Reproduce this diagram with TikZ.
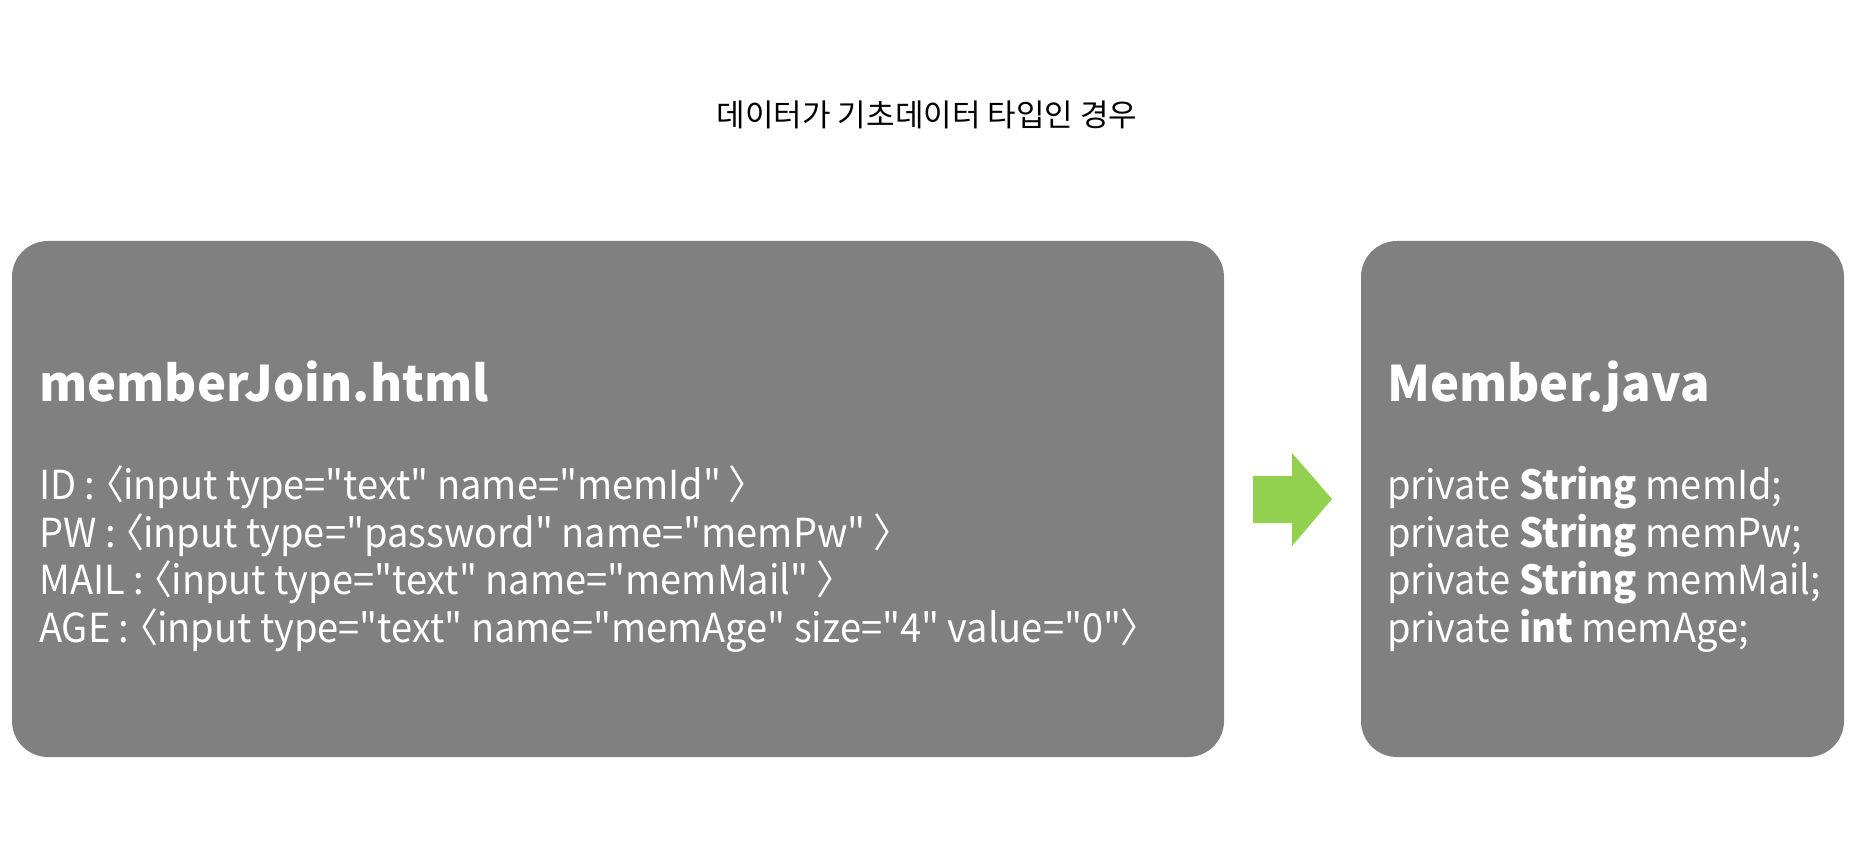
\documentclass[tikz,border=0pt]{standalone}
\usepackage{fontspec}
\setmainfont{Noto Sans CJK KR}[RawFeature={+palt}, Ligatures=TeXOff]
\newfontfamily\bodyfont{Noto Sans CJK KR}[RawFeature={+palt}, Ligatures=TeXOff, FakeStretch=0.95]
\definecolor{boxgray}{HTML}{808080}
\definecolor{arrowgreen}{HTML}{92D050}
\tikzset{
  panel/.style={fill=boxgray, draw=none, rounded corners=36pt},
  headtext/.style={anchor=base west, inner sep=0pt, text=white, font=\fontsize{49}{60}\selectfont\bfseries},
  bodytext/.style={anchor=base west, inner sep=0pt, text=white, font=\bodyfont\fontsize{40}{47.6}\selectfont},
  titletext/.style={anchor=center, inner sep=0pt, text=black, font=\fontsize{31}{34}\selectfont}
}
\begin{document}
\begin{tikzpicture}[x=1pt,y=-1pt]
\useasboundingbox (0,0) rectangle (1864,850);
\fill[white] (0,0) rectangle (1864,850);
\node[titletext] (title) at (927,115) {데이터가 기초데이터 타입인 경우};
\fill[panel] (12,241) rectangle (1224,757);
\fill[panel] (1361,241) rectangle (1844,757);
\node[headtext] (lhead) at (39,401) {memberJoin.html};
\node[bodytext] (l1) at (39,499) {ID : 〈input type="text" name="memId" 〉};
\node[bodytext] (l2) at (39,547) {PW : 〈input type="password" name="memPw" 〉};
\node[bodytext] (l3) at (39,594) {MAIL : 〈input type="text" name="memMail" 〉};
\node[bodytext] (l4) at (39,642) {AGE : 〈input type="text" name="memAge" size="4" value="0"〉};
\node[headtext] (rhead) at (1387,401) {Member.java};
\node[bodytext] (r1) at (1387,499) {private \textbf{String} memId;};
\node[bodytext] (r2) at (1387,547) {private \textbf{String} memPw;};
\node[bodytext] (r3) at (1387,594) {private \textbf{String} memMail;};
\node[bodytext] (r4) at (1387,642) {private \textbf{int} memAge;};
\fill[arrowgreen] (1253,476) -- (1292,476) -- (1292,453) -- (1332,499) -- (1292,546) -- (1292,523) -- (1253,523) -- cycle;
\end{tikzpicture}
\end{document}
